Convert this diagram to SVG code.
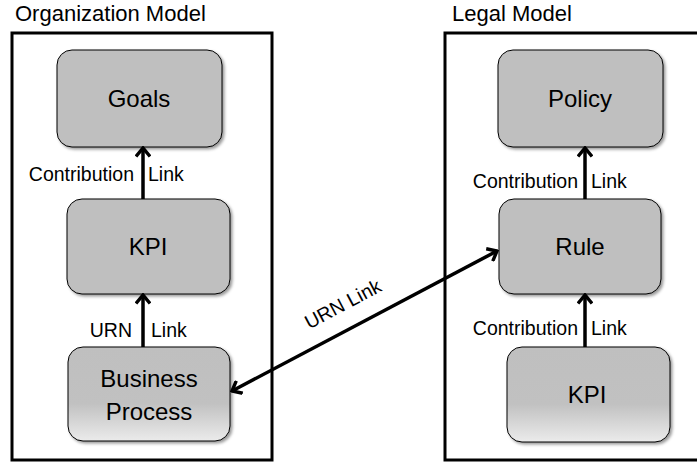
<svg xmlns="http://www.w3.org/2000/svg" width="697" height="463" viewBox="0 0 697 463">
<style>
.title{font-family:"Liberation Sans",Arial,sans-serif;font-size:22px;fill:#000}
.ntext{font-family:"Liberation Sans",Arial,sans-serif;font-size:24px;fill:#000;text-anchor:middle}
.lbl{font-family:"Liberation Sans",Arial,sans-serif;font-size:19.5px;fill:#000}
.frame{fill:none;stroke:#000;stroke-width:3}
.node{fill:#bfbfbf;stroke:#000;stroke-width:1;filter:url(#sh)}
.node.grad{fill:url(#g)}
.conn{fill:none;stroke:#000;stroke-width:3.5;marker-end:url(#ah)}
.conn.both{marker-start:url(#ah)}
</style>
<defs>
<filter id="sh" x="-10%" y="-10%" width="130%" height="130%">
<feDropShadow dx="2" dy="2" stdDeviation="1.8" flood-color="#000" flood-opacity="0.4"/>
</filter>
<linearGradient id="g" x1="0" y1="0" x2="0" y2="1">
<stop offset="0" stop-color="#bfbfbf"/>
<stop offset="0.6" stop-color="#c1c1c1"/>
<stop offset="1" stop-color="#ebebeb"/>
</linearGradient>
<marker id="ah" viewBox="-12 -8 14 16" refX="0" refY="0" markerWidth="14" markerHeight="16" markerUnits="userSpaceOnUse" orient="auto-start-reverse">
<path d="M-8.5,-7 L0,0 L-8.5,7" fill="none" stroke="#000" stroke-width="3.4" stroke-linejoin="miter"/>
</marker>
</defs>

<g id="org-model">
<rect class="frame" x="12" y="33" width="260" height="427"/>
<text class="title" x="15" y="21">Organization Model</text>
</g>
<g id="legal-model">
<rect class="frame" x="445" y="33" width="260" height="427"/>
<text class="title" x="452" y="21">Legal Model</text>
</g>

<g id="goals">
<rect class="node" x="57" y="50" width="165" height="97" rx="15"/>
<text class="ntext" x="139" y="107">Goals</text>
</g>
<g id="kpi-org">
<rect class="node" x="67" y="199" width="163" height="95" rx="15"/>
<text class="ntext" x="148" y="255">KPI</text>
</g>
<g id="business-process">
<rect class="node grad" x="68" y="347" width="162" height="94" rx="15"/>
<text class="ntext" x="149" y="387">Business</text>
<text class="ntext" x="149" y="420">Process</text>
</g>
<g id="policy">
<rect class="node" x="498" y="50" width="165" height="97" rx="15"/>
<text class="ntext" x="580" y="107">Policy</text>
</g>
<g id="rule">
<rect class="node" x="499" y="199" width="162" height="95" rx="15"/>
<text class="ntext" x="580" y="255">Rule</text>
</g>
<g id="kpi-legal">
<rect class="node grad" x="507" y="347" width="163" height="95" rx="15"/>
<text class="ntext" x="587" y="403">KPI</text>
</g>

<g id="connectors">
<line class="conn" x1="143" y1="199" x2="143" y2="148"/>
<line class="conn" x1="143" y1="347" x2="143" y2="295"/>
<line class="conn" x1="585" y1="199" x2="585" y2="148"/>
<line class="conn" x1="585" y1="347" x2="585" y2="295"/>
<line class="conn both" x1="232" y1="391" x2="497" y2="251"/>
<text class="lbl" x="134" y="181" text-anchor="end">Contribution</text>
<text class="lbl" x="148" y="181">Link</text>
<text class="lbl" x="132" y="337" text-anchor="end">URN</text>
<text class="lbl" x="151" y="337">Link</text>
<text class="lbl" x="578" y="188" text-anchor="end">Contribution</text>
<text class="lbl" x="591" y="188">Link</text>
<text class="lbl" x="578" y="335" text-anchor="end">Contribution</text>
<text class="lbl" x="591" y="335">Link</text>
<text class="lbl" x="346" y="310" text-anchor="middle" font-size="17" transform="rotate(-28 346 310)">URN Link</text>
</g>
</svg>
